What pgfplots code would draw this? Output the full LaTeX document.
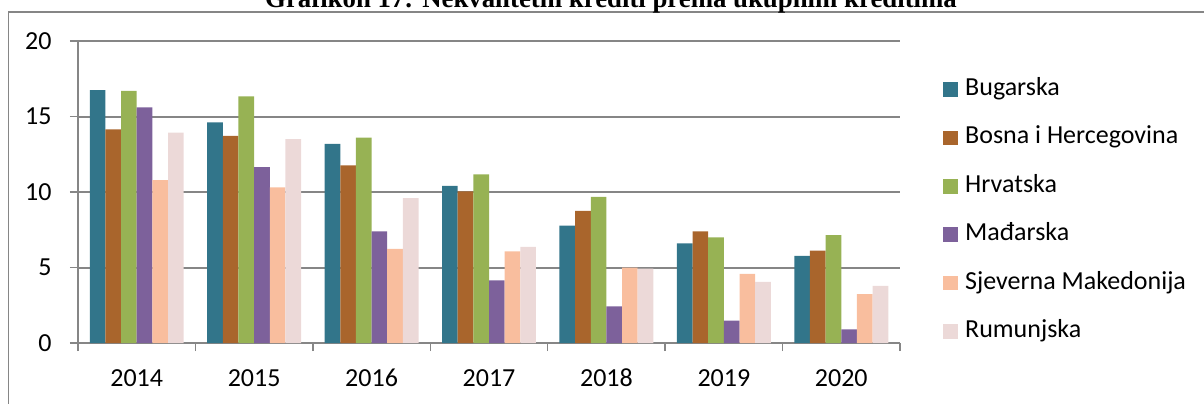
\documentclass[border=0pt]{standalone}
\usepackage{fontspec}
\setmainfont{Carlito}
\newfontfamily\titlefont{Liberation Serif}
\usepackage{pgfplots}
\pgfplotsset{compat=1.18}
\definecolor{cBug}{HTML}{32758A}
\definecolor{cBos}{HTML}{A9652C}
\definecolor{cHrv}{HTML}{97B254}
\definecolor{cMad}{HTML}{7D619B}
\definecolor{cSM}{HTML}{F9BE9E}
\definecolor{cRum}{HTML}{ECD9D8}
\definecolor{axgray}{HTML}{868686}
\begin{document}
\begin{tikzpicture}
\path[use as bounding box] (0,0) rectangle (602pt,201.5pt);
\draw[axgray, line width=0.65pt] (4.15pt,-10pt) -- (4.15pt,195.5pt) -- (620pt,195.5pt);
\node[anchor=base, font=\titlefont\bfseries\fontsize{13.4}{16}\selectfont, inner sep=0pt] at (305.5pt,198pt) {Grafikon 17: Nekvalitetni krediti prema ukupnim kreditima};
\begin{axis}[
  at={(39pt,30pt)}, anchor=south west, scale only axis,
  width=411pt, height=151pt,
  xmin=-0.5, xmax=6.5, ymin=0, ymax=20,
  ybar=0pt, bar width=0.1333,
  axis x line*=bottom, axis y line*=left,
  axis line style={axgray, line width=0.75pt},
  xtick={0,...,6},
  xticklabels={2014,2015,2016,2017,2018,2019,2020},
  minor xtick={-0.5,0.5,1.5,2.5,3.5,4.5,5.5,6.5},
  major x tick style={draw=none},
  ytick={0,5,10,15,20},
  tick align=outside,
  major tick length=4pt, minor tick length=4pt,
  tick style={axgray, line width=0.75pt},
  ymajorgrids, grid style={axgray, line width=1pt},
  /pgf/number format/assume math mode=true,
  tick label style={font=\fontsize{13}{15}\selectfont, text=black},
  xticklabel style={anchor=north, inner sep=0pt, text height=8.6pt, text depth=0pt, yshift=-9pt},
  yticklabel style={anchor=east, inner sep=0pt, xshift=-9pt},
  legend cell align=left,
  legend style={draw=none, fill=none, at={(1.0523,0.4387)}, anchor=west,
    font=\fontsize{13}{15}\selectfont, row sep=12.2pt, inner sep=0pt,
    nodes={inner sep=0pt, text height=9pt, text depth=3pt},
    /tikz/every odd column/.append style={column sep=3.65pt}},
  legend image code/.code={\fill[#1] (0pt,-3.625pt) rectangle (7.25pt,3.625pt);},
]
\addplot[fill=cBug, draw=none] coordinates {(0,16.74) (1,14.61) (2,13.18) (3,10.41) (4,7.78) (5,6.59) (6,5.77)};
\addplot[fill=cBos, draw=none] coordinates {(0,14.15) (1,13.71) (2,11.76) (3,10.04) (4,8.75) (5,7.39) (6,6.12)};
\addplot[fill=cHrv, draw=none] coordinates {(0,16.69) (1,16.34) (2,13.60) (3,11.17) (4,9.68) (5,6.99) (6,7.14)};
\addplot[fill=cMad, draw=none] coordinates {(0,15.61) (1,11.65) (2,7.39) (3,4.14) (4,2.43) (5,1.48) (6,0.91)};
\addplot[fill=cSM, draw=none] coordinates {(0,10.79) (1,10.30) (2,6.23) (3,6.06) (4,5.00) (5,4.58) (6,3.23)};
\addplot[fill=cRum, draw=none] coordinates {(0,13.93) (1,13.51) (2,9.60) (3,6.37) (4,4.93) (5,4.05) (6,3.78)};
\legend{Bugarska, Bosna i Hercegovina, Hrvatska, Mađarska, Sjeverna Makedonija, Rumunjska}
\end{axis}
\end{tikzpicture}
\end{document}
